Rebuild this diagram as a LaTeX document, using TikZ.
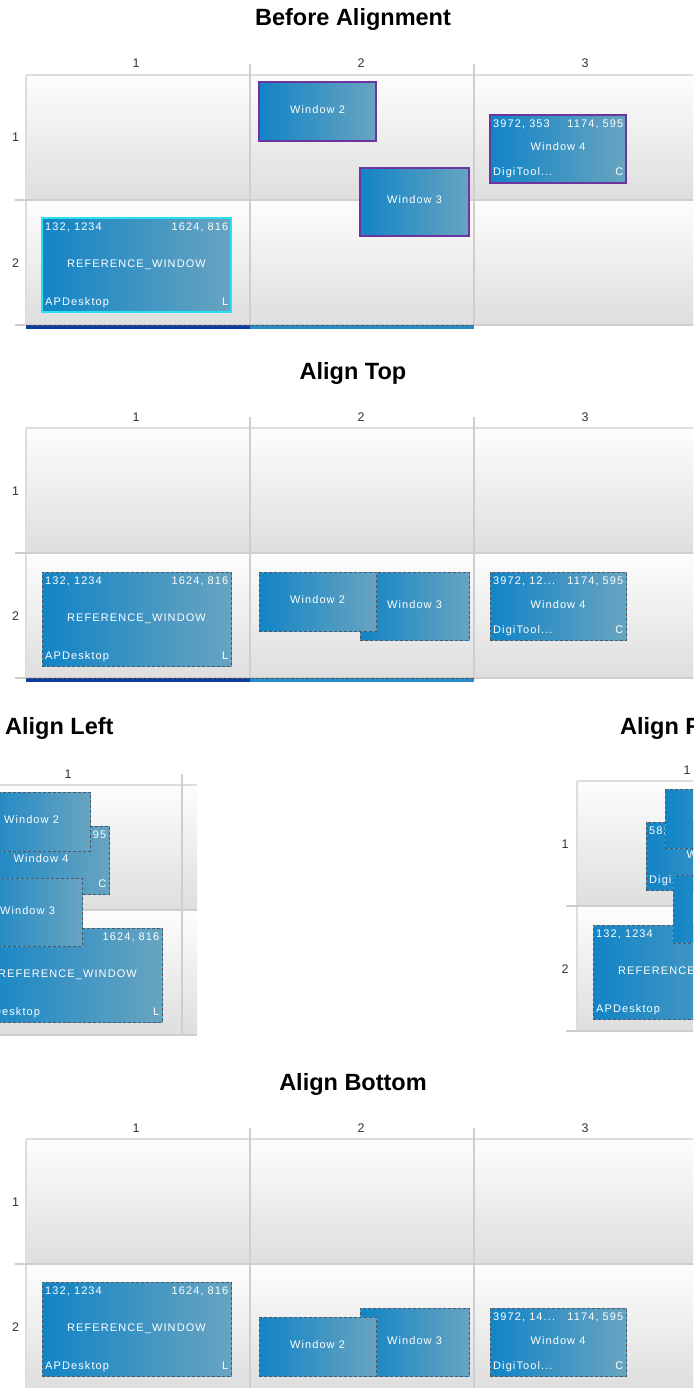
\documentclass[tikz,border=0pt]{standalone}
\usepackage{fontspec}
\setmainfont{Liberation Sans}
\newfontfamily\winfont[LetterSpace=10]{Liberation Sans}
\definecolor{winL}{RGB}{18,132,198}
\definecolor{winR}{RGB}{104,164,192}
\definecolor{refcyan}{RGB}{40,225,240}
\definecolor{selpurple}{RGB}{108,52,160}
\definecolor{dashgray}{RGB}{85,85,90}
\definecolor{dashblue}{RGB}{70,170,225}
\definecolor{cellT}{RGB}{253,253,253}
\definecolor{cellB}{RGB}{222,222,222}
\definecolor{gridline}{RGB}{206,206,206}
\definecolor{labgray}{RGB}{50,50,50}
\definecolor{stripdark}{RGB}{10,60,160}
\definecolor{stripmid}{RGB}{40,140,200}
\tikzset{
 paneltitle/.style={font=\fontsize{23.5}{28}\selectfont\bfseries, anchor=base, inner sep=0},
 axlab/.style={font=\fontsize{12.5}{15}\selectfont, text=labgray, anchor=base, inner sep=0},
 wtxt/.style={font=\winfont\fontsize{11}{13}\selectfont, text=white, inner sep=0},
 winbox/.style={rectangle, inner sep=0, outer sep=0, anchor=north west, left color=winL, right color=winR},
 origsel/.style={draw=selpurple, line width=2pt},
 refsel/.style={draw=refcyan, line width=1.5pt},
 moved/.style={draw=dashblue, line width=1pt, postaction={draw=dashgray, line width=1pt, dash pattern=on 3pt off 2pt}},
 gline/.style={draw=gridline, line width=2pt},
 gedge/.style={draw=gridline!70!white, line width=1.5pt},
}
\newcommand\win[6]{\node[winbox,#6,minimum width=#4pt,minimum height=#5pt] (#1) at (#2,#3) {};}
\newcommand\wTL[2]{\node[wtxt, anchor=base west] (#1tl) at ([shift={(3,12.8)}]#1.north west) {#2};}
\newcommand\wTR[2]{\node[wtxt, anchor=base east] (#1tr) at ([shift={(-2.5,12.8)}]#1.north east) {#2};}
\newcommand\wC[2]{\node[wtxt, anchor=base] (#1c) at ([shift={(0,2)}]#1.center) {#2};}
\newcommand\wBL[2]{\node[wtxt, anchor=base west] (#1bl) at ([shift={(3,-7)}]#1.south west) {#2};}
\newcommand\wBR[2]{\node[wtxt, anchor=base east] (#1br) at ([shift={(-2.5,-7)}]#1.south east) {#2};}
\newcommand\gridrows[1]{%
 \shade[top color=cellT, bottom color=cellB] (0,0) rectangle (#1,125);
 \shade[top color=cellT, bottom color=cellB] (0,125) rectangle (#1,250);
 \draw[gedge] (0,0) -- (#1,0);
 \draw[gedge] (0,0) -- (0,250);
 \draw[gline] (-11,125) -- (#1,125);
 \draw[gline] (-11,250) -- (#1,250);
}
\newcommand\colline[1]{\draw[gline] (#1,-11) -- (#1,250);}
\newcommand\strip{%
 \fill[stripdark] (0,250) rectangle (224,254);
 \fill[stripmid] (224,250) rectangle (448,254);
 \draw[dashgray, line width=1pt, dash pattern=on 3pt off 2pt] (0,250.5) -- (448,250.5);
}
\begin{document}
\begin{tikzpicture}[x=1pt,y=-1pt]
\useasboundingbox (0,0) rectangle (693,1388);
\clip (0,0) rectangle (693,1388);
\fill[white] (0,0) rectangle (693,1388);

% ---------- Before Alignment ----------
\node[paneltitle] (t1) at (353,26) {Before Alignment};
\begin{scope}[shift={(26,75)}]
 \gridrows{680}
 \colline{224}\colline{448}
 \node[axlab] (p1c1) at (110,-7) {1};
 \node[axlab] (p1c2) at (335,-7) {2};
 \node[axlab] (p1c3) at (559,-7) {3};
 \node[axlab] (p1r1) at (-10.5,67) {1};
 \node[axlab] (p1r2) at (-10.5,192) {2};
 \strip
 \win{p1ref}{16}{143}{189}{94}{refsel}
 \wTL{p1ref}{132, 1234}\wTR{p1ref}{1624, 816}\wC{p1ref}{REFERENCE\_WINDOW}\wBL{p1ref}{APDesktop}\wBR{p1ref}{L}
 \win{p1wd}{464}{40}{136}{68}{origsel}
 \wTL{p1wd}{3972, 353}\wTR{p1wd}{1174, 595}\wC{p1wd}{Window 4}\wBL{p1wd}{DigiTool...}\wBR{p1wd}{C}
 \win{p1wc}{334}{93}{109}{68}{origsel}
 \wC{p1wc}{Window 3}
 \win{p1wb}{233}{7}{117}{59}{origsel}
 \wC{p1wb}{Window 2}
\end{scope}

% ---------- Align Top ----------
\node[paneltitle] (t2) at (353,379) {Align Top};
\begin{scope}[shift={(26,428)}]
 \gridrows{680}
 \colline{224}\colline{448}
 \node[axlab] (p2c1) at (110,-7) {1};
 \node[axlab] (p2c2) at (335,-7) {2};
 \node[axlab] (p2c3) at (559,-7) {3};
 \node[axlab] (p2r1) at (-10.5,67) {1};
 \node[axlab] (p2r2) at (-10.5,192) {2};
 \strip
 \win{p2ref}{16}{144}{189}{94}{moved}
 \wTL{p2ref}{132, 1234}\wTR{p2ref}{1624, 816}\wC{p2ref}{REFERENCE\_WINDOW}\wBL{p2ref}{APDesktop}\wBR{p2ref}{L}
 \win{p2wd}{464}{144}{136}{68}{moved}
 \wTL{p2wd}{3972, 12...}\wTR{p2wd}{1174, 595}\wC{p2wd}{Window 4}\wBL{p2wd}{DigiTool...}\wBR{p2wd}{C}
 \win{p2wc}{334}{144}{109}{68}{moved}
 \wC{p2wc}{Window 3}
 \win{p2wb}{233}{144}{117}{59}{moved}
 \wC{p2wb}{Window 2}
\end{scope}

% ---------- Align Left ----------
\node[paneltitle, anchor=base west] (t3) at (5,734) {Align Left};
\begin{scope}[shift={(-42,785)}]
 \gridrows{239}
 \colline{224}
 \node[axlab] (p3c1) at (110,-7) {1};
 \win{p3ref}{15}{143}{189}{94}{moved}
 \wTR{p3ref}{1624, 816}\wC{p3ref}{REFERENCE\_WINDOW}\wBL{p3ref}{APDesktop}\wBR{p3ref}{L}
 \win{p3wd}{15}{41}{136}{68}{moved}
 \wTR{p3wd}{1174, 595}\wC{p3wd}{Window 4}\wBR{p3wd}{C}
 \win{p3wc}{15}{93}{109}{68}{moved}
 \wC{p3wc}{Window 3}
 \win{p3wb}{15}{7}{117}{59}{moved}
 \wC{p3wb}{Window 2}
\end{scope}

% ---------- Align Right ----------
\node[paneltitle, anchor=base west] (t4) at (620,734) {Align Right};
\begin{scope}[shift={(577,781)}]
 \gridrows{130}
 \node[axlab] (p4c1) at (110,-7) {1};
 \node[axlab] (p4r1) at (-12,67) {1};
 \node[axlab] (p4r2) at (-12,192) {2};
 \win{p4ref}{16}{144}{189}{94}{moved}
 \wTL{p4ref}{132, 1234}\wC{p4ref}{REFERENCE\_WINDOW}\wBL{p4ref}{APDesktop}
 \win{p4wd}{69}{41}{136}{68}{moved}
 \wTL{p4wd}{582, 353}\wC{p4wd}{Window 4}\wBL{p4wd}{DigiTool...}
 \win{p4wc}{96}{94}{109}{68}{moved}
 \win{p4wb}{88}{8}{117}{59}{moved}
 \wC{p4wb}{Window 2}
\end{scope}

% ---------- Align Bottom ----------
\node[paneltitle] (t5) at (353,1090) {Align Bottom};
\begin{scope}[shift={(26,1139)}]
 \gridrows{680}
 \colline{224}\colline{448}
 \node[axlab] (p5c1) at (110,-7) {1};
 \node[axlab] (p5c2) at (335,-7) {2};
 \node[axlab] (p5c3) at (559,-7) {3};
 \node[axlab] (p5r1) at (-10.5,67) {1};
 \node[axlab] (p5r2) at (-10.5,192) {2};
 \win{p5ref}{16}{143}{189}{94}{moved}
 \wTL{p5ref}{132, 1234}\wTR{p5ref}{1624, 816}\wC{p5ref}{REFERENCE\_WINDOW}\wBL{p5ref}{APDesktop}\wBR{p5ref}{L}
 \win{p5wd}{464}{169}{136}{68}{moved}
 \wTL{p5wd}{3972, 14...}\wTR{p5wd}{1174, 595}\wC{p5wd}{Window 4}\wBL{p5wd}{DigiTool...}\wBR{p5wd}{C}
 \win{p5wc}{334}{169}{109}{68}{moved}
 \wC{p5wc}{Window 3}
 \win{p5wb}{233}{178}{117}{59}{moved}
 \wC{p5wb}{Window 2}
\end{scope}
\end{tikzpicture}
\end{document}
